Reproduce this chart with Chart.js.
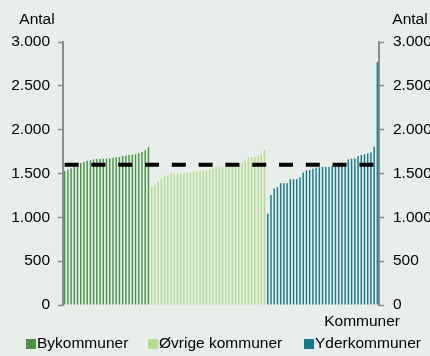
<!DOCTYPE html>
<html>
<head>
<meta charset="utf-8">
<script src="https://cdn.jsdelivr.net/npm/chart.js@4/dist/chart.umd.min.js"></script>
<style>
  html, body { margin: 0; padding: 0; background: #e8eeea; }
  #wrap { width: 430px; height: 356px; }
</style>
</head>
<body>
<div id="wrap"><canvas id="graf"></canvas></div>
<script>
// antal pr. kommune, sorteret stigende inden for hver gruppe
const bykommuner = [1530, 1545, 1560, 1590, 1610, 1620, 1630, 1645, 1650, 1660, 1665, 1665, 1670, 1670,
  1675, 1680, 1685, 1690, 1700, 1705, 1710, 1715, 1720, 1730, 1745, 1765, 1800]
const oevrigeKommuner = [1350, 1360, 1410, 1440, 1470, 1480, 1500, 1500, 1500, 1500, 1505, 1510, 1515, 1520,
  1525, 1530, 1535, 1540, 1550, 1560, 1570, 1580, 1580, 1585, 1590, 1595, 1600, 1610, 1625, 1645,
  1680, 1690, 1690, 1710, 1725, 1770]
const yderkommuner = [1040, 1255, 1330, 1345, 1390, 1390, 1390, 1435, 1435, 1435, 1455, 1510, 1535, 1540,
  1555, 1565, 1570, 1575, 1575, 1575, 1585, 1590, 1590, 1600, 1615, 1660, 1670, 1670, 1700, 1710,
  1720, 1730, 1740, 1805, 2770]
const gennemsnit = 1600
const yTicks = [0, 500, 1000, 1500, 2000, 2500, 3000]

const antalKommuner = bykommuner.length + oevrigeKommuner.length + yderkommuner.length
const labels = []
for (let i = 1; i <= antalKommuner; i++) labels.push(String(i))

// hver gruppe faar sin egen serie, resten fyldes med null
function serie(start, vaerdier) {
  const d = new Array(antalKommuner).fill(null)
  vaerdier.forEach((v, i) => { d[start + i] = v })
  return d
}

function tusind(v) {
  return String(v).replace(/\B(?=(\d{3})+(?!\d))/g, '.')
}

const fontNavn = "'Liberation Sans', Arial, sans-serif"
const fontStr = 15.5
const graa = '#8c8c8c'

const baggrund = {
  id: 'baggrund',
  beforeDraw(chart) {
    const c = chart.ctx
    c.save()
    c.fillStyle = '#e8eeea'
    c.fillRect(0, 0, chart.width, chart.height)
    c.restore()
  }
}

// aksetitler og en tæt forklaring under grafen
const tekster = {
  id: 'tekster',
  afterDraw(chart) {
    const c = chart.ctx
    const a = chart.chartArea
    c.save()
    c.font = fontStr + 'px ' + fontNavn
    c.fillStyle = '#000'
    c.textBaseline = 'middle'
    c.textAlign = 'center'
    c.fillText('Antal', 37, 20)
    c.fillText('Antal', 410, 20)
    c.textAlign = 'right'
    c.fillText('Kommuner', 400, a.bottom + 17)

    const startX = [26, 148, 304]
    const y = a.bottom + 39
    c.textAlign = 'left'
    chart.data.datasets.filter(ds => ds.type === 'bar').forEach((ds, i) => {
      c.fillStyle = ds.backgroundColor
      c.fillRect(startX[i], y - 5, 10, 10)
      c.fillStyle = '#000'
      c.fillText(ds.label, startX[i] + 11, y)
    })
    c.restore()
  }
}

function yAkse(side) {
  return {
    type: 'linear',
    position: side,
    min: 0,
    max: 3000,
    afterBuildTicks: s => { s.ticks = yTicks.map(v => ({ value: v })) },
    afterFit: s => { s.width = side === 'left' ? 63 : 51 },
    grid: { drawOnChartArea: false, drawTicks: true, tickLength: 5, tickColor: graa, tickWidth: 1.5 },
    border: { display: true, color: graa, width: 2 },
    ticks: {
      padding: side === 'left' ? 8 : 9,
      color: '#000',
      font: { family: fontNavn, size: fontStr },
      callback: v => tusind(v)
    }
  }
}

new Chart(document.getElementById('graf'), {
  data: {
    labels: labels,
    datasets: [
      {
        type: 'line',
        label: 'Gennemsnit',
        data: labels.map(() => gennemsnit),
        borderColor: '#000',
        borderWidth: 4,
        borderDash: [14, 12.8],
        pointRadius: 0,
        order: 0
      },
      {
        type: 'bar',
        label: 'Bykommuner',
        data: serie(0, bykommuner),
        backgroundColor: '#4c9249',
        order: 1
      },
      {
        type: 'bar',
        label: 'Øvrige kommuner',
        data: serie(bykommuner.length, oevrigeKommuner),
        backgroundColor: '#b4dc92',
        order: 1
      },
      {
        type: 'bar',
        label: 'Yderkommuner',
        data: serie(bykommuner.length + oevrigeKommuner.length, yderkommuner),
        backgroundColor: '#18798a',
        order: 1
      }
    ]
  },
  options: {
    responsive: true,
    maintainAspectRatio: false,
    animation: false,
    datasets: { bar: { grouped: false, categoryPercentage: 1, barPercentage: 0.45 } },
    layout: { padding: { top: 42, bottom: 0 } },
    scales: {
      x: {
        display: true,
        grid: { display: false },
        border: { display: false },
        ticks: { display: false },
        afterFit: s => { s.height = 51 }
      },
      y: yAkse('left'),
      y2: yAkse('right')
    },
    plugins: {
      legend: { display: false },
      tooltip: { enabled: false }
    }
  },
  plugins: [baggrund, tekster]
})
</script>
</body>
</html>
